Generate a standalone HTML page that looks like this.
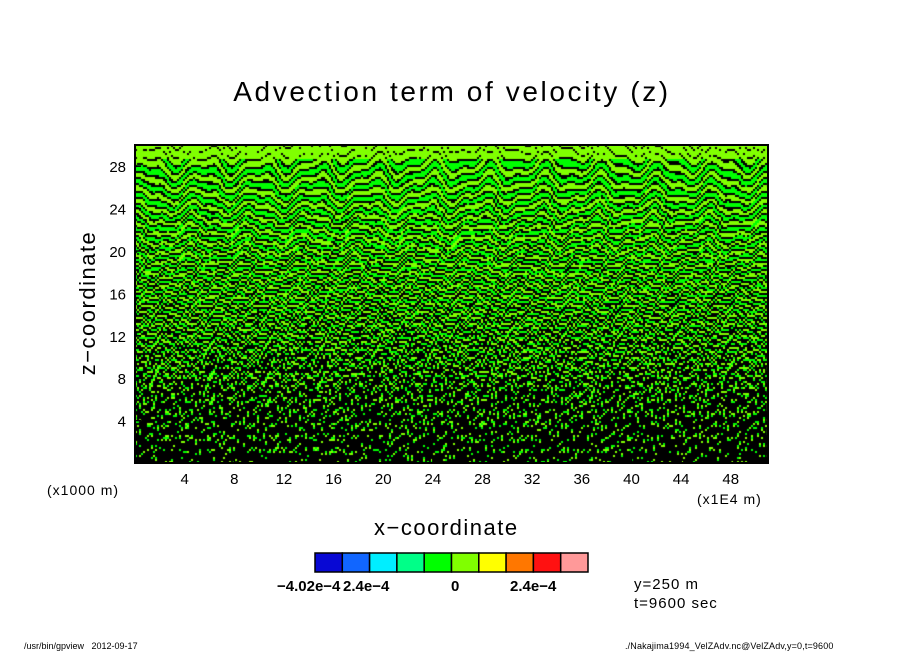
<!DOCTYPE html>
<html><head><meta charset="utf-8"><style>
body{margin:0;background:#fff;width:904px;height:654px;overflow:hidden;position:relative;font-family:"Liberation Sans",sans-serif}
.t{position:absolute;white-space:nowrap;color:#000}
</style></head><body>
<div class="t" style="left:0;width:904px;text-align:center;top:76px;font-size:28px;letter-spacing:2.6px">Advection term of velocity (z)</div>
<canvas id="cv" width="634" height="319" style="position:absolute;left:135px;top:145px"></canvas>
<svg id="ax" width="904" height="654" style="position:absolute;left:0;top:0"></svg>
<div class="t" style="left:-12px;top:290px;font-size:22px;letter-spacing:1.5px;transform:rotate(-90deg);transform-origin:center;width:200px;text-align:center">z−coordinate</div>
<div class="t" style="left:374px;top:515px;font-size:22px;letter-spacing:1.5px">x−coordinate</div>
<div class="t" style="left:47px;top:482px;font-size:14px;letter-spacing:1px">(x1000 m)</div>
<div class="t" style="left:697px;top:491px;font-size:14px;letter-spacing:1px">(x1E4 m)</div>
<div class="t" style="left:277px;top:578px;font-size:15px;font-weight:bold">−4.02e−4</div>
<div class="t" style="left:343px;top:578px;font-size:15px;font-weight:bold">2.4e−4</div>
<div class="t" style="left:451px;top:578px;font-size:15px;font-weight:bold">0</div>
<div class="t" style="left:510px;top:578px;font-size:15px;font-weight:bold">2.4e−4</div>
<div class="t" style="left:634px;top:576px;font-size:15px;letter-spacing:1px">y=250 m</div>
<div class="t" style="left:634px;top:595px;font-size:15px;letter-spacing:1px">t=9600 sec</div>
<div class="t" style="left:24px;top:641px;font-size:9px">/usr/bin/gpview &nbsp; 2012-09-17</div>
<div class="t" style="left:625px;top:641px;font-size:9px;letter-spacing:0.15px">./Nakajima1994_VelZAdv.nc@VelZAdv,y=0,t=9600</div>
<script>
const xTicks=[4,8,12,16,20,24,28,32,36,40,44,48];
const yTicks=[4,8,12,16,20,24,28];
const cbColors=["#0808d4","#1166ff","#00eeff","#00ff88","#00ff00","#80ff00","#ffff00","#ff7700","#ff1111","#ff9999"];
const X0=135,X1=768,Y0=145,Y1=463,xmin=0,xmax=51,ymin=0,ymax=30;
const sx=v=>X0+(v-xmin)/(xmax-xmin)*(X1-X0);
const sy=v=>Y1-(v-ymin)/(ymax-ymin)*(Y1-Y0);
const NS="http://www.w3.org/2000/svg",ax=document.getElementById('ax');
function mk(t,a){const e=document.createElementNS(NS,t);for(const k in a)e.setAttribute(k,a[k]);ax.appendChild(e);return e;}
const fr=mk('rect',{x:X0,y:Y0,width:X1-X0,height:Y1-Y0,fill:'none',stroke:'#000','stroke-width':2});


xTicks.forEach(v=>{const l=mk('line',{x1:sx(v),x2:sx(v),y1:Y1,y2:Y1-6,stroke:'#000','stroke-width':1.5});


const t=mk('text',{x:sx(v),y:484,'text-anchor':'middle','font-size':15,'font-family':'Liberation Sans'});t.textContent=v;

});
yTicks.forEach(v=>{const l=mk('line',{x1:X0,x2:X0+6,y1:sy(v),y2:sy(v),stroke:'#000','stroke-width':1.5});


const t=mk('text',{x:126,y:sy(v)+6,'text-anchor':'end','font-size':15,'font-family':'Liberation Sans'});t.textContent=v;

});
const cw=27.3;
cbColors.forEach((c,i)=>{const r=mk('rect',{x:315+i*cw,y:553,width:cw,height:19,fill:c,stroke:'#000','stroke-width':1.5});

});
// contour texture (2px cells)
const cv=document.getElementById('cv'),ctx=cv.getContext('2d'),W=cv.width,H=cv.height;
for(let y=0;y<H;y+=2){const t=y/H;for(let x=0;x<W;x+=2){
 const fy=0.33+0.5*t;
 const g=Math.sin(y*fy+3*Math.sin(x*0.11+y*0.02)+1.5*Math.sin(x*0.23+1.7)+t*2.5*Math.sin(x*0.45+y*0.21));
 const h=Math.sin(x*0.9+y*0.5+Math.sin(x*0.3)*3);
 const w=0.45+0.6*Math.pow(t,1.3)+0.2*t*h;
 let c;
 if(Math.abs(g)<w)c='#000';else if(g>0)c='#80ff00';else c='#00ff00';
 if(y<14&&Math.abs(g)>0.25)c='#80ff00';
 ctx.fillStyle=c;ctx.fillRect(x,y,2,2);}}
</script>
</body></html>
